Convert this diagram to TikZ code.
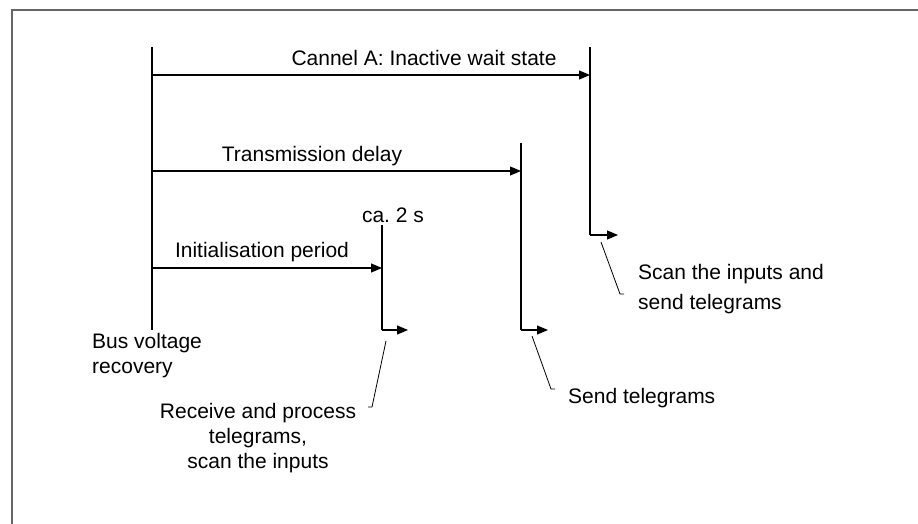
\documentclass[tikz,border=0pt]{standalone}
\usepackage{fontspec}
\setmainfont{Liberation Sans}
\usetikzlibrary{arrows.meta}
\begin{document}
\begin{tikzpicture}[x=1pt,y=-1pt,
  tline/.style={line width=1.2pt},
  tarr/.style={line width=1.2pt,-{Triangle[length=11pt,width=9pt]}},
  lead/.style={line width=0.8pt},
  lbl/.style={font=\fontsize{21}{25}\selectfont, inner sep=0pt},
]
\useasboundingbox (0,0) rectangle (918,524);
\draw[line width=2pt, black!60] (12,530) -- (12,10) -- (930,10);

% main timeline
\coordinate (m0) at (152,47);
\coordinate (m1) at (152,330);
\draw[tline] (m0) -- (m1);

% channel A
\coordinate (a0) at (152,75);
\coordinate (ctop) at (590,47);
\coordinate (ca) at (590,75);
\coordinate (cb) at (590,235);
\coordinate (cc) at (618,235);
\draw[tarr] (a0) -- (ca);
\draw[tline] (ctop) -- (cb);
\draw[tarr] (cb) -- (cc);

% transmission delay
\coordinate (d0) at (152,171);
\coordinate (dtop) at (521,143);
\coordinate (da) at (521,171);
\coordinate (db) at (521,330);
\coordinate (dc) at (548,330);
\draw[tarr] (d0) -- (da);
\draw[tline] (dtop) -- (db);
\draw[tarr] (db) -- (dc);

% initialisation
\coordinate (i0) at (152,268);
\coordinate (itop) at (382,225);
\coordinate (ia) at (382,268);
\coordinate (ib) at (382,330);
\coordinate (ic) at (408,330);
\draw[tarr] (i0) -- (ia);
\draw[tline] (itop) -- (ib);
\draw[tarr] (ib) -- (ic);

% labels
\node[lbl, anchor=base] (lca) at (424,66) {Cannel A: Inactive wait state};
\node[lbl, anchor=base] (ltd) at (312,161) {Transmission delay};
\node[lbl, anchor=base] (lip) at (262,257) {Initialisation period};
\node[lbl, anchor=base] (l2s) at (393,222) {ca.\ 2 s};
\node[lbl, anchor=base west, align=left] (lbus) at (92,373) {Bus voltage\\recovery};
\node[lbl, anchor=base, align=center] (lrec) at (258,468) {Receive and process\\telegrams,\\scan the inputs};
\node[lbl, anchor=base west] (lsend) at (568,403) {Send telegrams};
\node[lbl, anchor=base west, align=left, font=\fontsize{21}{30}\selectfont] (lscan) at (638,309) {Scan the inputs and\\send telegrams};

% leader lines
\coordinate (r0) at (386,341);
\coordinate (r1) at (372,407);
\coordinate (r2) at (368,407);
\draw[lead] (r0) -- (r1) -- (r2);
\coordinate (s0) at (532,336);
\coordinate (s1) at (551,389);
\coordinate (s2) at (555,389);
\draw[lead] (s0) -- (s1) -- (s2);
\coordinate (k0) at (601,242);
\coordinate (k1) at (620,294);
\coordinate (k2) at (624,294);
\draw[lead] (k0) -- (k1) -- (k2);
\end{tikzpicture}
\end{document}
